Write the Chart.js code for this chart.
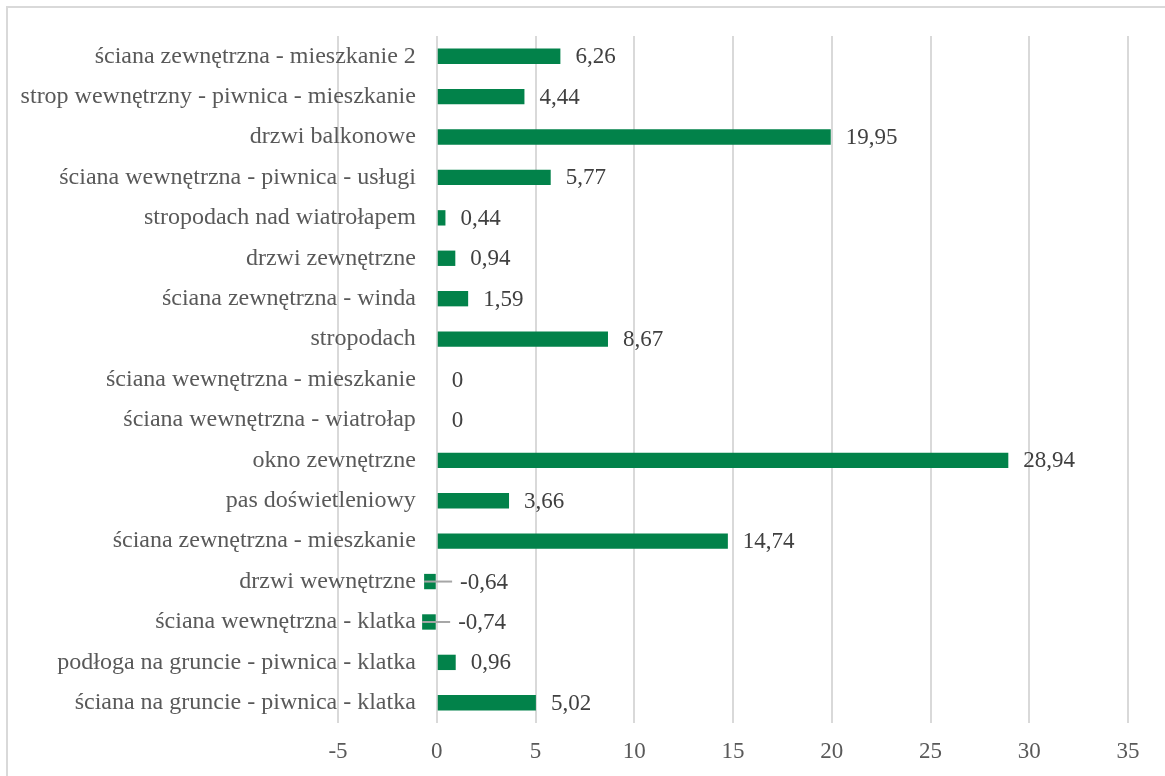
<!DOCTYPE html>
<html>
<head>
<meta charset="utf-8">
<script src="https://cdn.jsdelivr.net/npm/chart.js@4.4.1/dist/chart.umd.min.js"></script>
<style>
  html, body { margin: 0; padding: 0; background: #fff; }
  #wrap { position: relative; width: 1165px; height: 776px; overflow: hidden; }
  #frame { position: absolute; left: 6px; top: 6px; width: 1200px; height: 800px; border: 2px solid #d9d9d9; box-sizing: border-box; }
  canvas { position: absolute; left: 0; top: 0; }
</style>
</head>
<body>
<div id="wrap">
  <div id="frame"></div>
  <canvas id="lossChart" width="1165" height="776"></canvas>
</div>
<script>
"use strict";

// elements, top to bottom
const categories = [
  "ściana zewnętrzna - mieszkanie 2",
  "strop wewnętrzny - piwnica - mieszkanie",
  "drzwi balkonowe",
  "ściana wewnętrzna - piwnica - usługi",
  "stropodach nad wiatrołapem",
  "drzwi zewnętrzne",
  "ściana zewnętrzna - winda",
  "stropodach",
  "ściana wewnętrzna - mieszkanie",
  "ściana wewnętrzna - wiatrołap",
  "okno zewnętrzne",
  "pas doświetleniowy",
  "ściana zewnętrzna - mieszkanie",
  "drzwi wewnętrzne",
  "ściana wewnętrzna - klatka",
  "podłoga na gruncie - piwnica - klatka",
  "ściana na gruncie - piwnica - klatka",
];
const values = [6.26, 4.44, 19.95, 5.77, 0.44, 0.94, 1.59, 8.67, 0, 0, 28.94, 3.66, 14.74, -0.64, -0.74, 0.96, 5.02];
const axisMin = -5;
const axisMax = 35;
const axisStep = 5;

const SERIF = "'Liberation Serif', 'Times New Roman', serif";

// value labels to the right of each bar, negatives get a leader line
const valueLabels = {
  id: "valueLabels",
  afterDatasetsDraw(chart) {
    const ctx = chart.ctx;
    const xs = chart.scales.x;
    const meta = chart.getDatasetMeta(0);
    ctx.save();
    ctx.font = "23px " + SERIF;
    ctx.fillStyle = "#404040";
    ctx.textAlign = "left";
    ctx.textBaseline = "middle";
    meta.data.forEach((bar, i) => {
      const v = values[i];
      const txt = v.toFixed(2).replace(/\.?0+$/, "").replace(".", ",");
      const y = bar.y + 1;
      if (v < 0) {
        const end = xs.getPixelForValue(v);
        const lx = end + 36;
        ctx.strokeStyle = "#a6a6a6";
        ctx.lineWidth = 2;
        ctx.beginPath();
        ctx.moveTo(end, bar.y);
        ctx.lineTo(lx - 8, bar.y);
        ctx.stroke();
        ctx.fillText(txt, lx, y);
      } else {
        ctx.fillText(txt, xs.getPixelForValue(v) + 15, y);
      }
    });
    ctx.restore();
  },
};

new Chart(document.getElementById("lossChart"), {
  type: "bar",
  data: {
    labels: categories,
    datasets: [{
      data: values,
      backgroundColor: "#02824a",
      borderWidth: 0,
      categoryPercentage: 1,
      barPercentage: 0.38,
    }],
  },
  options: {
    indexAxis: "y",
    responsive: false,
    animation: false,
    layout: { padding: { left: 338, right: 37, top: 36, bottom: 0 } },
    plugins: {
      legend: { display: false },
      tooltip: { enabled: false },
    },
    scales: {
      x: {
        min: axisMin,
        max: axisMax,
        afterFit: (scale) => { scale.height = 53; },
        ticks: {
          stepSize: axisStep,
          color: "#595959",
          font: { family: SERIF, size: 23 },
          padding: 15,
        },
        grid: { color: "#d9d9d9", lineWidth: 2, drawTicks: false },
        border: { display: false },
      },
      y: {
        // category labels sit a little left of the zero line
        position: { x: -1.06 },
        ticks: {
          color: "#595959",
          font: { family: SERIF, size: 24 },
          autoSkip: false,
        },
        grid: { display: false, drawTicks: false },
        border: { display: false },
      },
    },
  },
  plugins: [valueLabels],
});
</script>
</body>
</html>
